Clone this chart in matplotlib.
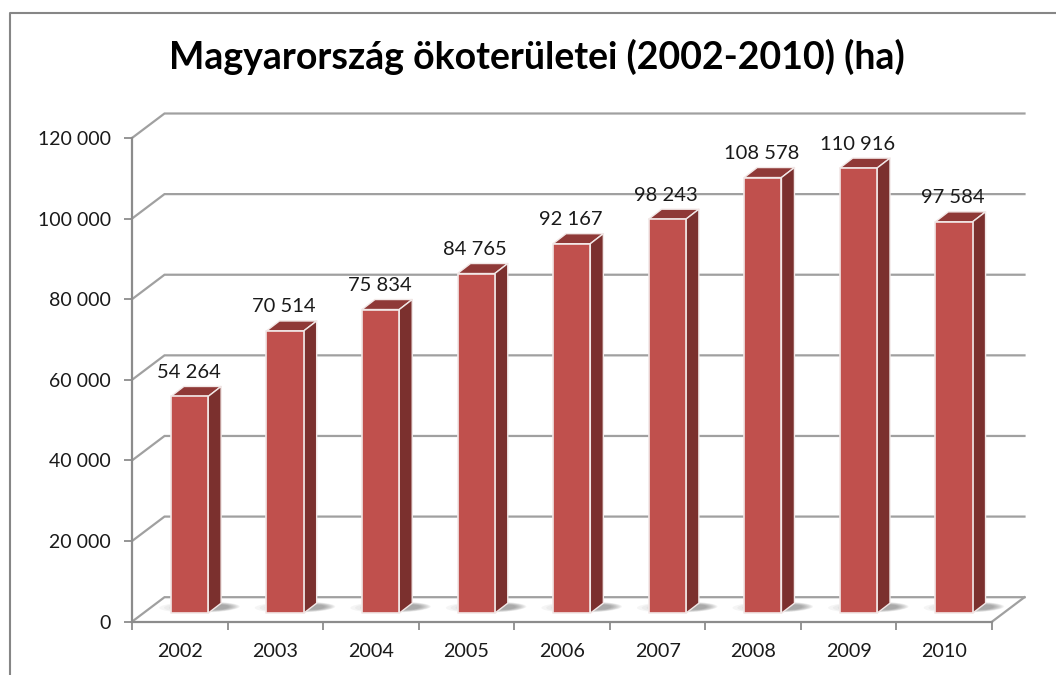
import matplotlib
matplotlib.use("Agg")
import matplotlib.pyplot as plt
from matplotlib.patches import Polygon, PathPatch
from matplotlib.path import Path
from matplotlib.transforms import Affine2D
from matplotlib.lines import Line2D

years = ["2002", "2003", "2004", "2005", "2006", "2007", "2008", "2009", "2010"]
values = [54264, 70514, 75834, 84765, 92167, 98243, 108578, 110916, 97584]
value_labels = ["54 264", "70 514", "75 834", "84 765", "92 167", "98 243", "108 578", "110 916", "97 584"]
y_ticks = [0, 20000, 40000, 60000, 80000, 100000, 120000]
y_labels = ["0", "20 000", "40 000", "60 000", "80 000", "100 000", "120 000"]
title = "Magyarország ökoterületei (2002-2010) (ha)"

W, H = 1056, 675
FONT = "Lato"
plt.rcParams["font.family"] = [FONT, "DejaVu Sans"]
fig = plt.figure(figsize=(W / 100, H / 100), dpi=100, facecolor="white")
L, R, B, T = 132, 992, 621.7, 138
ax = fig.add_axes([L / W, 1 - B / H, (R - L) / W, (B - T) / H])
ax.set_xlim(-0.5, 8.5)
ax.set_ylim(0, 120000)
ax.patch.set_visible(False)


def px(dx=0, dy=0):
    return ax.transData + Affine2D().translate(dx, dy)


# Chart frame (left and top only, open to the right)
fig.add_artist(Line2D([9.5 / W, 9.5 / W, 1], [0, 1 - 13 / H, 1 - 13 / H],
                      transform=fig.transFigure, color="#868686", lw=1.5))

# 3D wall and gridlines
DX, DY = 32.5, 24.5
grid = "#A0A0A0"
for v in y_ticks:
    xa, ya = ax.transData.transform((-0.5, v))
    xb, yb = ax.transData.transform((8.5, v))
    ax.add_line(Line2D([xa, xa + DX, xb + DX], [ya, ya + DY, ya + DY], transform=None,
                       color=grid, lw=1.6, zorder=1, clip_on=False, solid_joinstyle="miter"))
xa, ya = ax.transData.transform((8.5, 0))
ax.add_line(Line2D([xa, xa + DX], [ya, ya + DY], transform=None, color=grid, lw=1.6, zorder=1, clip_on=False))

# Axes
for s in ("top", "right"):
    ax.spines[s].set_visible(False)
for s in ("left", "bottom"):
    ax.spines[s].set_color("#8C8C8C")
    ax.spines[s].set_linewidth(1.6)
    ax.spines[s].set_zorder(2)
ax.set_yticks(y_ticks)
ax.set_yticklabels(y_labels, fontsize=14, color="#1A1A1A")
ax.tick_params(axis="y", length=6, width=1.3, color="#8C8C8C", pad=9)
ax.set_xticks(range(len(years)))
ax.set_xticklabels(years, fontsize=14.2, color="#1A1A1A")
ax.tick_params(axis="x", which="major", length=0, pad=15)
ax.set_xticks([i - 0.5 for i in range(len(years) + 1)], minor=True)
ax.tick_params(axis="x", which="minor", length=6, width=1.3, color="#8C8C8C")

# Bars
BW = 0.39          # front width in category units
OX, OY = 9.7, 6.5  # placement of the bar inside the depth of the chart, px
SX, SY = 13, 10    # depth of the bar, px
base = 500         # small floor gap

for i, (v, lab) in enumerate(zip(values, value_labels)):
    x0, x1 = i - BW / 2, i + BW / 2
    tr = px(OX, OY)
    xl, yb_ = tr.transform((x0, base))
    xr, yt = tr.transform((x1, v))
    # floor shadow
    cx0 = (xl + xr) / 2 + 10
    for k in range(12):
        a = 40 - k * 2.9
        b = 5.6 - k * 0.3
        t = Affine2D().scale(a, b).skew_deg(40, 0).translate(cx0 + k * 1.9, yb_ + 6)
        ax.add_patch(PathPatch(Path.unit_circle(), transform=t, fc="#606060", ec="none",
                               alpha=0.06, zorder=2, clip_on=False))
    ec = "#F2E8E7"
    ax.add_patch(Polygon([(xl, yt), (xr, yt), (xr + SX, yt + SY), (xl + SX, yt + SY)], transform=None,
                         fc="#8F3937", ec=ec, lw=1.0, zorder=3, clip_on=False, joinstyle="round"))
    ax.add_patch(Polygon([(xr, yb_), (xr, yt), (xr + SX, yt + SY), (xr + SX, yb_ + SY)], transform=None,
                         fc="#7B302E", ec=ec, lw=1.0, zorder=3, clip_on=False, joinstyle="round"))
    ax.add_patch(Polygon([(xl, yb_), (xr, yb_), (xr, yt), (xl, yt)], transform=None,
                         fc="#C0504D", ec=ec, lw=1.2, zorder=4, clip_on=False, joinstyle="round"))
    ax.annotate(lab, (i, v), xycoords="data", xytext=(OX - 1, OY + 24), textcoords="offset pixels",
                ha="center", va="center", fontsize=14.5, color="#1A1A1A", zorder=5)

fig.text(537 / W, 1 - 57 / H, title, ha="center", va="center", fontsize=27,
         fontweight="bold", color="black")

fig.savefig("out.png", dpi=100)
